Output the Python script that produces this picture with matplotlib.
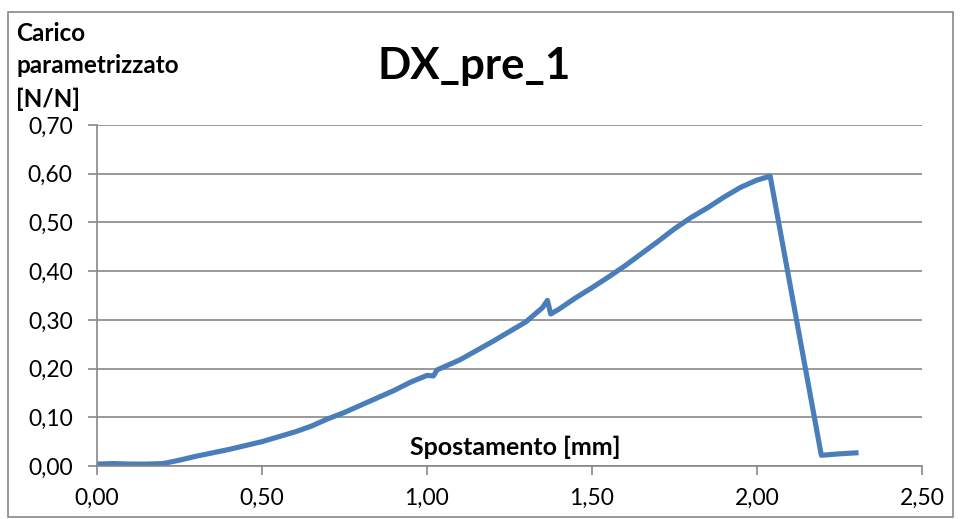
import matplotlib.pyplot as plt
from matplotlib.patches import Rectangle
from matplotlib.ticker import FuncFormatter, MultipleLocator

plt.rcParams['font.family'] = ['Lato', 'DejaVu Sans']

# spostamento [mm] e carico parametrizzato [N/N]
spostamento = [0.00, 0.05, 0.10, 0.15, 0.20, 0.25, 0.30, 0.35, 0.40, 0.45,
               0.50, 0.55, 0.60, 0.65, 0.70, 0.75, 0.80, 0.85, 0.90, 0.95,
               1.00, 1.02, 1.03, 1.10, 1.15, 1.20, 1.25, 1.30, 1.35, 1.365,
               1.375, 1.40, 1.45, 1.50, 1.55, 1.60, 1.65, 1.70, 1.75, 1.80,
               1.85, 1.90, 1.95, 2.00, 2.04, 2.195, 2.25, 2.30]
carico = [0.004, 0.005, 0.004, 0.004, 0.005, 0.012, 0.020, 0.027, 0.034, 0.042,
          0.050, 0.060, 0.070, 0.082, 0.097, 0.110, 0.125, 0.140, 0.155, 0.172,
          0.186, 0.185, 0.197, 0.218, 0.237, 0.256, 0.276, 0.296, 0.325, 0.340,
          0.312, 0.322, 0.345, 0.366, 0.388, 0.411, 0.436, 0.461, 0.487, 0.510,
          0.530, 0.552, 0.572, 0.587, 0.595, 0.022, 0.025, 0.027]

fig = plt.figure(figsize=(9.63, 5.19), dpi=100)
ax = fig.add_axes([0.1007, 0.1021, 0.8567, 0.6570])

ax.plot(spostamento, carico, color='#4A7EBB', lw=3.7, solid_joinstyle='round')

ax.set_xlim(0, 2.5)
ax.set_ylim(0, 0.7)
ax.xaxis.set_major_locator(MultipleLocator(0.5))
ax.yaxis.set_major_locator(MultipleLocator(0.1))
fmt = FuncFormatter(lambda v, p: f"{v:.2f}".replace('.', ','))
ax.xaxis.set_major_formatter(fmt)
ax.yaxis.set_major_formatter(fmt)
ax.grid(axis='y', color='#888888', lw=1.2)
ax.set_axisbelow(True)
for s in ['top', 'right']:
    ax.spines[s].set_visible(False)
for s in ['left', 'bottom']:
    ax.spines[s].set_color('#888888')
    ax.spines[s].set_linewidth(1.2)
ax.tick_params(colors='#888888', length=6.5, width=1.2, labelsize=16.5,
               labelcolor='black')
ax.tick_params(axis='x', pad=9)
ax.tick_params(axis='y', pad=11)

fig.text(0.492, 1 - 66 / 519, 'DX_pre_1', fontsize=31.5, fontweight='bold',
         ha='center', va='center')
fig.text(16 / 963, 1 - 22 / 519, 'Carico\nparametrizzato\n[N/N]', fontsize=17.5,
         fontweight='bold', ha='left', va='top', linespacing=1.5)
fig.text(515 / 963, 1 - 447 / 519, 'Spostamento [mm]', fontsize=18,
         fontweight='bold', ha='center', va='center')

fig.patches.append(Rectangle((0.008, 0.004), 0.982, 0.972, fill=False,
                             edgecolor='#888888', lw=1.2,
                             transform=fig.transFigure, figure=fig))

fig.savefig('out.png', dpi=100)
